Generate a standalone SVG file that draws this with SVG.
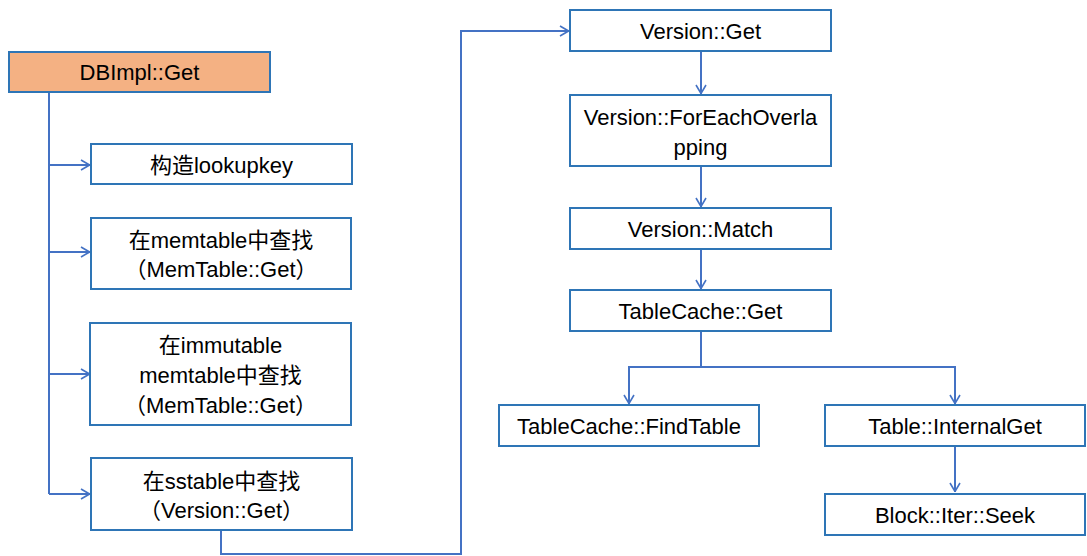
<svg xmlns="http://www.w3.org/2000/svg" width="1087" height="556" viewBox="0 0 1087 556">
<defs>
<style>
.box{fill:#fff;stroke:#2E75B6;stroke-width:2}
.hl{fill:#F4B183}
.t{font-family:"Liberation Sans","Noto Sans CJK SC",sans-serif;font-size:22px;fill:#000;text-anchor:middle}
.c{fill:none;stroke:#4472C4;stroke-width:2}
</style>
<marker id="ah" viewBox="0 0 10 12" refX="10" refY="6" markerWidth="10" markerHeight="12" markerUnits="userSpaceOnUse" orient="auto">
<path d="M1,1 L9.5,6 L1,11" fill="none" stroke="#4472C4" stroke-width="1.6"/>
</marker>
</defs>
<rect width="1087" height="556" fill="#fff"/>
<g id="connectors">
<path class="c" d="M49,92 V494"/>
<path class="c" d="M49,165 H90" marker-end="url(#ah)"/>
<path class="c" d="M49,252 H90" marker-end="url(#ah)"/>
<path class="c" d="M49,374 H90" marker-end="url(#ah)"/>
<path class="c" d="M49,494 H90" marker-end="url(#ah)"/>
<path class="c" d="M221,530 V554 H461 V31 H569" marker-end="url(#ah)"/>
<path class="c" d="M701,51 V94" marker-end="url(#ah)"/>
<path class="c" d="M701,166 V207" marker-end="url(#ah)"/>
<path class="c" d="M701,249 V289" marker-end="url(#ah)"/>
<path class="c" d="M701,331 V367 H629 V404" marker-end="url(#ah)"/>
<path class="c" d="M701,367 H955 V404" marker-end="url(#ah)"/>
<path class="c" d="M955,446 V492" marker-end="url(#ah)"/>
</g>
<g id="n-dbimpl"><rect class="box hl" x="9" y="52" width="261" height="40"/><text class="t" x="139.5" y="80">DBImpl::Get</text></g>
<g id="n-lookupkey"><rect class="box" x="91" y="144" width="261" height="40"/><text class="t" x="221.5" y="173">构造lookupkey</text></g>
<g id="n-memtable"><rect class="box" x="91" y="218" width="260" height="71"/><text class="t" x="221" y="248">在memtable中查找</text><text class="t" x="221" y="277">（MemTable::Get）</text></g>
<g id="n-immutable"><rect class="box" x="90" y="323" width="261" height="102"/><text class="t" x="220.5" y="353">在immutable</text><text class="t" x="220.5" y="383">memtable中查找</text><text class="t" x="220.5" y="413">（MemTable::Get）</text></g>
<g id="n-sstable"><rect class="box" x="91" y="458" width="261" height="72"/><text class="t" x="221.5" y="489">在sstable中查找</text><text class="t" x="221.5" y="518">（Version::Get）</text></g>
<g id="n-versionget"><rect class="box" x="570" y="10" width="261" height="41"/><text class="t" x="700.5" y="39">Version::Get</text></g>
<g id="n-foreach"><rect class="box" x="570" y="95" width="261" height="71"/><text class="t" x="700.5" y="125">Version::ForEachOverla</text><text class="t" x="700.5" y="155">pping</text></g>
<g id="n-match"><rect class="box" x="570" y="208" width="261" height="41"/><text class="t" x="700.5" y="237">Version::Match</text></g>
<g id="n-tcget"><rect class="box" x="570" y="290" width="261" height="41"/><text class="t" x="700.5" y="319">TableCache::Get</text></g>
<g id="n-findtable"><rect class="box" x="499" y="405" width="260" height="41"/><text class="t" x="629" y="434">TableCache::FindTable</text></g>
<g id="n-internalget"><rect class="box" x="825" y="405" width="260" height="41"/><text class="t" x="955" y="434">Table::InternalGet</text></g>
<g id="n-seek"><rect class="box" x="825" y="494" width="260" height="41"/><text class="t" x="955" y="523">Block::Iter::Seek</text></g>
</svg>
